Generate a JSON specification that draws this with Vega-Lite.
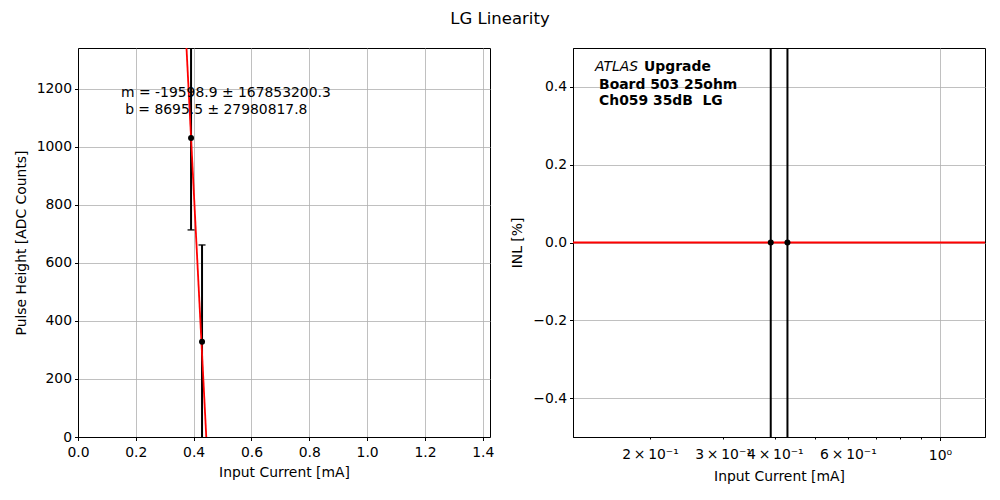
{
  "$schema": "https://vega.github.io/schema/vega-lite/v6.json",
  "padding": {"left": 13, "top": 11, "right": 15, "bottom": 5},
  "background": "white",
  "title": {"text": "LG Linearity", "fontSize": 16.5, "font": "DejaVu Sans", "fontWeight": "normal", "anchor": "middle", "offset": 20, "color": "black"},
  "config": {
    "font": "DejaVu Sans",
    "view": {"stroke": "black", "strokeWidth": 1},
    "axis": {
      "labelFont": "DejaVu Sans", "labelFontSize": 13.9, "labelColor": "black",
      "titleFont": "DejaVu Sans", "titleFontSize": 13.9, "titleFontWeight": "normal", "titleColor": "black",
      "domainColor": "black", "tickColor": "black", "tickSize": 3.5, "labelPadding": 3,
      "gridColor": "#b0b0b0", "gridWidth": 0.8, "labelOverlap": false, "labelFlush": false
    },
    "concat": {"spacing": 15}
  },
  "datasets": {
    "meas": [
      {"current": 0.391, "adc": 1031, "adc_lo": 714, "adc_hi": 1348, "inl": 0, "inl_lo": -100, "inl_hi": 100},
      {"current": 0.429, "adc": 328, "adc_lo": -6, "adc_hi": 662, "inl": 0, "inl_lo": -100, "inl_hi": 100}
    ],
    "fit": [
      {"current": 0.37, "adc": 1443.9},
      {"current": 0.45, "adc": -124.0}
    ]
  },
  "hconcat": [
    {
      "width": 412, "height": 389,
      "layer": [
        {
          "data": {"name": "meas"},
          "mark": {"type": "rule", "color": "black", "strokeWidth": 2, "clip": true},
          "encoding": {
            "x": {"field": "current", "type": "quantitative", "scale": {"domain": [0, 1.425], "nice": false, "zero": false},
              "axis": {"title": "Input Current [mA]", "values": [0, 0.2, 0.4, 0.6, 0.8, 1.0, 1.2, 1.4], "format": ".1f", "grid": true, "labelPadding": 5, "titlePadding": 6}},
            "y": {"field": "adc_lo", "type": "quantitative", "scale": {"domain": [0, 1341], "nice": false},
              "axis": {"title": "Pulse Height [ADC Counts]", "values": [0, 200, 400, 600, 800, 1000, 1200], "format": "d", "grid": true, "titlePadding": 8}},
            "y2": {"field": "adc_hi"}
          }
        },
        {
          "data": {"name": "meas"},
          "mark": {"type": "tick", "color": "black", "orient": "horizontal", "size": 7, "thickness": 1.8, "clip": true},
          "encoding": {
            "x": {"field": "current", "type": "quantitative"},
            "y": {"field": "adc_lo", "type": "quantitative"}
          }
        },
        {
          "data": {"name": "meas"},
          "mark": {"type": "tick", "color": "black", "orient": "horizontal", "size": 7, "thickness": 1.8, "clip": true},
          "encoding": {
            "x": {"field": "current", "type": "quantitative"},
            "y": {"field": "adc_hi", "type": "quantitative"}
          }
        },
        {
          "data": {"name": "fit"},
          "mark": {"type": "line", "color": "red", "strokeWidth": 1.8, "clip": true},
          "encoding": {
            "x": {"field": "current", "type": "quantitative"},
            "y": {"field": "adc", "type": "quantitative"}
          }
        },
        {
          "data": {"name": "meas"},
          "mark": {"type": "circle", "color": "black", "opacity": 1, "size": 36, "clip": true},
          "encoding": {
            "x": {"field": "current", "type": "quantitative"},
            "y": {"field": "adc", "type": "quantitative"}
          }
        },
        {
          "data": {"values": [{"label": "m = -19598.9 ± 167853200.3"}]},
          "mark": {"type": "text", "align": "left", "baseline": "middle", "fontSize": 13.9, "font": "DejaVu Sans", "color": "black"},
          "encoding": {"x": {"datum": 0.149}, "y": {"datum": 1186}, "text": {"field": "label"}}
        },
        {
          "data": {"values": [{"label": "b = 8695.5 ± 27980817.8"}]},
          "mark": {"type": "text", "align": "left", "baseline": "middle", "fontSize": 13.9, "font": "DejaVu Sans", "color": "black"},
          "encoding": {"x": {"datum": 0.163}, "y": {"datum": 1128}, "text": {"field": "label"}}
        }
      ]
    },
    {
      "width": 412, "height": 389,
      "layer": [
        {
          "data": {"values": [{}]},
          "mark": {"type": "rule", "color": "red", "strokeWidth": 1.8},
          "encoding": {"y": {"datum": 0, "type": "quantitative"}}
        },
        {
          "data": {"name": "meas"},
          "mark": {"type": "rule", "color": "black", "strokeWidth": 2, "clip": true},
          "encoding": {
            "x": {"field": "current", "type": "quantitative", "scale": {"type": "log", "domain": [0.1305, 1.284], "nice": false},
              "axis": {"title": "Input Current [mA]", "values": [0.2, 0.3, 0.4, 0.5, 0.6, 0.7, 0.8, 0.9, 1.0],
                "labelExpr": "datum.value > 0.95 ? '10⁰' : (indexof([2,3,4,6], round(datum.value*10)) >= 0 ? round(datum.value*10) + '\u2009×\u200910⁻¹' : '')",
                "grid": true,
                "gridOpacity": {"condition": {"test": "datum.value > 0.95", "value": 1}, "value": 0},
                "tickSize": {"condition": {"test": "datum.value > 0.95", "value": 3.5}, "value": 2},
                "labelPadding": 8, "titlePadding": 7}},
            "y": {"field": "inl_lo", "type": "quantitative", "scale": {"domain": [-0.5, 0.5], "nice": false},
              "axis": {"title": "INL [%]", "values": [-0.4, -0.2, 0, 0.2, 0.4], "labelExpr": "replace(format(datum.value, '.1f'), '-', '−')", "grid": true, "titlePadding": 8}},
            "y2": {"field": "inl_hi"}
          }
        },
        {
          "data": {"name": "meas"},
          "mark": {"type": "circle", "color": "black", "opacity": 1, "size": 36, "clip": true},
          "encoding": {
            "x": {"field": "current", "type": "quantitative"},
            "y": {"field": "inl", "type": "quantitative"}
          }
        },
        {
          "data": {"values": [{"label": "ATLAS"}]},
          "mark": {"type": "text", "align": "left", "baseline": "middle", "fontSize": 13.9, "fontStyle": "italic", "font": "DejaVu Sans", "color": "black"},
          "encoding": {"x": {"datum": 0.1475}, "y": {"datum": 0.45}, "text": {"field": "label"}}
        },
        {
          "data": {"values": [{"label": "Upgrade"}]},
          "mark": {"type": "text", "align": "left", "baseline": "middle", "fontSize": 13.9, "fontWeight": "bold", "font": "DejaVu Sans", "color": "black"},
          "encoding": {"x": {"datum": 0.1936}, "y": {"datum": 0.45}, "text": {"field": "label"}}
        },
        {
          "data": {"values": [{"label": "Board 503 25ohm"}]},
          "mark": {"type": "text", "align": "left", "baseline": "middle", "fontSize": 13.9, "fontWeight": "bold", "font": "DejaVu Sans", "color": "black"},
          "encoding": {"x": {"datum": 0.1508}, "y": {"datum": 0.4036}, "text": {"field": "label"}}
        },
        {
          "data": {"values": [{"label": "Ch059 35dB\u00a0\u00a0LG"}]},
          "mark": {"type": "text", "align": "left", "baseline": "middle", "fontSize": 13.9, "fontWeight": "bold", "font": "DejaVu Sans", "color": "black"},
          "encoding": {"x": {"datum": 0.1508}, "y": {"datum": 0.365}, "text": {"field": "label"}}
        }
      ]
    }
  ]
}
